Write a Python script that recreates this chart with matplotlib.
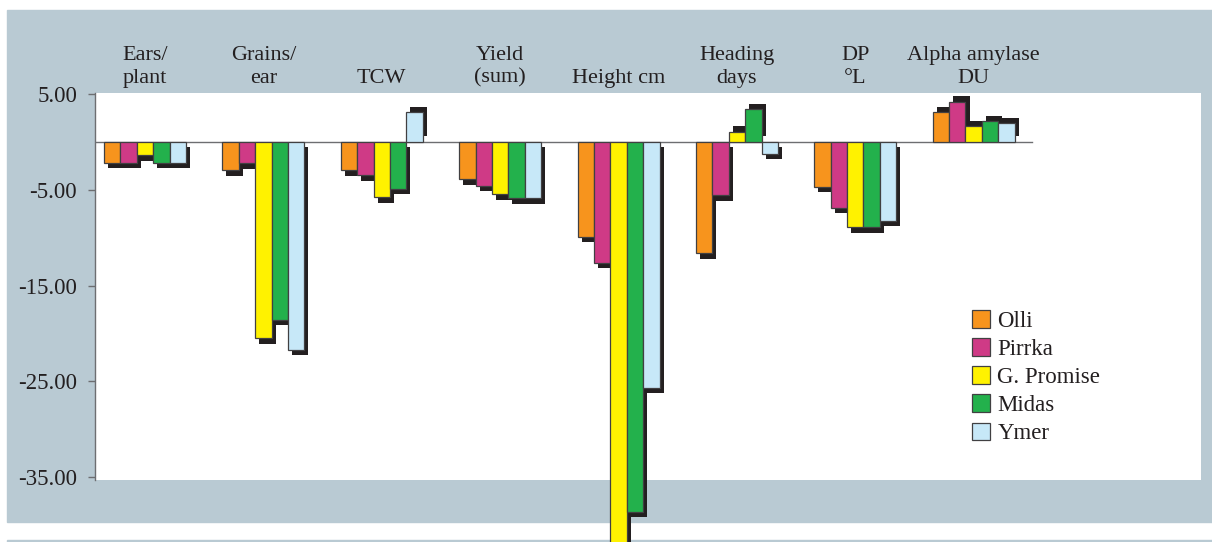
import numpy as np
import matplotlib
matplotlib.use('Agg')
import matplotlib.pyplot as plt
from matplotlib.patches import Rectangle
import matplotlib.transforms as mtransforms

plt.rcParams['font.family'] = ['Liberation Serif', 'DejaVu Serif']

# data (difference values)
categories = ['Ears/\nplant', 'Grains/\near', 'TCW', 'Yield\n(sum)', 'Height cm',
              'Heading\ndays', 'DP\n°L', 'Alpha amylase\nDU']
varieties = ['Olli', 'Pirrka', 'G. Promise', 'Midas', 'Ymer']
olli = [-2.2, -2.95, -2.95, -3.9, -9.9, -11.65, -4.7, 3.1]
pirrka = [-2.2, -2.25, -3.5, -4.6, -12.6, -5.6, -6.9, 4.2]
promise = [-1.4, -20.5, -5.8, -5.45, -43.0, 1.05, -8.9, 1.65]
midas = [-2.2, -18.6, -4.9, -5.9, -38.6, 3.4, -8.9, 2.15]
ymer = [-2.2, -21.7, 3.1, -5.9, -25.65, -1.27, -8.25, 1.95]
yticks = [5, -5, -15, -25, -35]

series = [olli, pirrka, promise, midas, ymer]
colors = ['#f7941d', '#cf3a86', '#fff200', '#23b14c', '#c7e8f8']
panel = '#b9cad3'
ink = '#231f20'
gray = '#6d6e71'

W, H = 1212, 542
fig = plt.figure(figsize=(W / 100, H / 100), dpi=100, facecolor='white')

# grey panel behind the chart + thin strip at the bottom
fig.patches.append(Rectangle((7 / W, 1 - 522 / H), 1 - 7 / W, (522 - 10) / H,
                             transform=fig.transFigure, color=panel, zorder=-10))
fig.patches.append(Rectangle((7 / W, 0), 1 - 7 / W, 2 / H,
                             transform=fig.transFigure, color=panel, zorder=-10))

ax = fig.add_axes([95 / W, 1 - 480 / H, (1201 - 95) / W, (480 - 93) / H])
ax.set_facecolor('white')

x = np.arange(len(categories))
w = 0.1385
dx = 0.034
dy = 0.57

# black drop shadows first, then the coloured bars on top
for j, (vals, c) in enumerate(zip(series, colors)):
    vals = np.array(vals)
    pos = x + (j - 2) * w
    ax.bar(pos + dx, vals, width=w, bottom=np.sign(vals) * dy, color=ink,
           zorder=2, clip_on=False)
for j, (vals, c) in enumerate(zip(series, colors)):
    pos = x + (j - 2) * w
    ax.bar(pos, vals, width=w, color=c, edgecolor='#414042', linewidth=0.9,
           zorder=3, clip_on=False, label=varieties[j])

ax.plot([-0.422, 7.49], [0, 0], color=gray, lw=1, zorder=1)

ax.set_xlim(-0.422, 8.92)
ax.set_ylim(-35.3, 5.1)

for s in ['top', 'right', 'bottom']:
    ax.spines[s].set_visible(False)
ax.spines['left'].set_color(gray)
ax.spines['left'].set_linewidth(1)
ax.set_xticks([])
ax.set_yticks(yticks)
ax.set_yticklabels([f'{v:.2f}' for v in yticks])
ax.tick_params(axis='y', length=5, width=1, color=gray, pad=8,
               labelsize=16.5, labelcolor=ink)

trans = mtransforms.blended_transform_factory(ax.transData, ax.transAxes)
for i, lab in enumerate(categories):
    ax.text(i, 1.013, lab, transform=trans, ha='center', va='bottom',
            fontsize=16, color=ink, linespacing=1.25, multialignment='center')

leg = ax.legend(loc='upper left', bbox_to_anchor=(972 / W, 1 - 310 / H),
                bbox_transform=fig.transFigure, frameon=False, fontsize=16.5,
                handlelength=0.8, handleheight=0.8, handletextpad=0.3,
                labelspacing=0.28, borderpad=0, borderaxespad=0)
for t in leg.get_texts():
    t.set_color(ink)

fig.savefig('out.png', dpi=100)
